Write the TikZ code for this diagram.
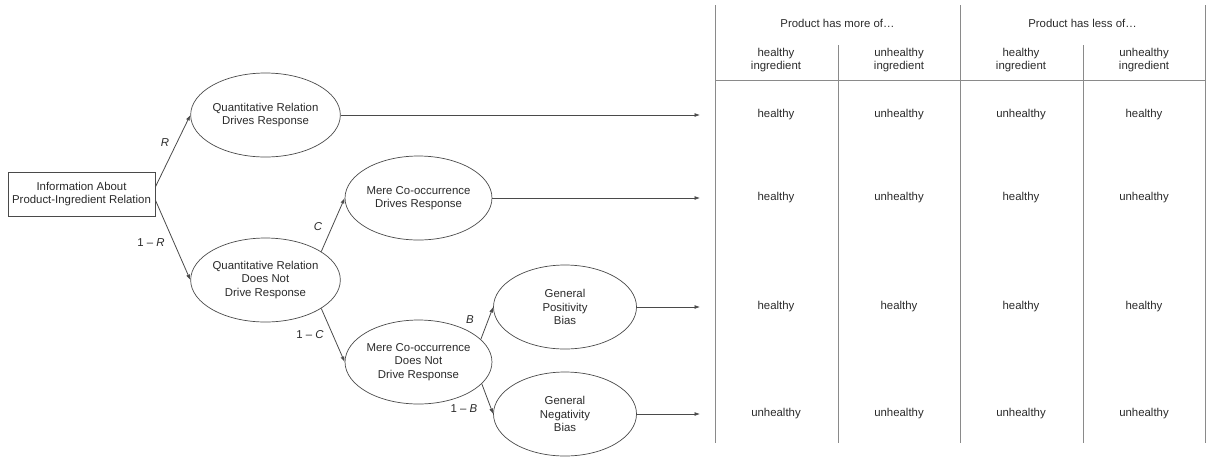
\documentclass[tikz,border=0pt]{standalone}
\usepackage{fontspec}
\setmainfont{Liberation Sans}
\usetikzlibrary{shapes.geometric,arrows.meta}
\definecolor{ln}{HTML}{4A4A4A}
\definecolor{tl}{HTML}{8A8A8A}
\definecolor{tx}{HTML}{2A2A2A}
\begin{document}
\begin{tikzpicture}[x=1pt,y=-1pt,
  every node/.style={font=\fontsize{11.4}{13.3}\selectfont, text=tx, align=center},
  oval/.style={ellipse, draw=ln, line width=0.7pt, minimum width=143pt, minimum height=84pt, inner sep=0pt},
  infobox/.style={rectangle, draw=ln, line width=0.7pt, minimum width=147pt, minimum height=44pt, inner sep=0pt},
  arr/.style={draw=ln, line width=0.8pt, -{Latex[length=5.5pt,width=4pt]}},
  tline/.style={draw=tl, line width=0.8pt},
  lbl/.style={font=\fontsize{11.4}{13.3}\selectfont}]
\useasboundingbox (0,0) rectangle (1206,456);
% nodes
\node[infobox] (info) at (81.5,194) {Information About\\Product-Ingredient Relation};
\node[oval] (q1) at (265.5,115) {Quantitative Relation\\Drives Response};
\node[oval] (q2) at (265.5,280) {Quantitative Relation\\Does Not\\Drive Response};
\node[oval] (m1) at (418.5,198) {Mere Co-occurrence\\Drives Response};
\node[oval] (m2) at (418.5,362) {Mere Co-occurrence\\Does Not\\Drive Response};
\node[oval] (g1) at (565,307) {General\\Positivity\\Bias};
\node[oval] (g2) at (565,414) {General\\Negativity\\Bias};
% end coordinates
\coordinate (e1) at (700,115);
\coordinate (e2) at (700,198);
\coordinate (e3) at (700,307);
\coordinate (e4) at (700,414);
% connectors
\draw[arr] ([yshift=7pt]info.east) -- (q1.west);
\draw[arr] ([yshift=-6pt]info.east) -- (q2.west);
\draw[arr] (q2.27) -- (m1.west);
\draw[arr] (q2.-27) -- (m2.west);
\draw[arr] (m2.20) -- (g1.west);
\draw[arr] (m2.-19) -- (g2.west);
\draw[arr] (q1.east) -- (e1);
\draw[arr] (m1.east) -- (e2);
\draw[arr] (g1.east) -- (e3);
\draw[arr] (g2.east) -- (e4);
% labels
\node[lbl] (lR) at (165,143) {\itshape R};
\node[lbl] (l1R) at (151,243) {1 -- \itshape R};
\node[lbl] (lC) at (318,227) {\itshape C};
\node[lbl] (l1C) at (310,335) {1 -- \itshape C};
\node[lbl] (lB) at (470,320) {\itshape B};
\node[lbl] (l1B) at (464,409) {1 -- \itshape B};
% table lines
\coordinate (t1) at (715,5);
\coordinate (t1b) at (715,443);
\coordinate (t2) at (960,5);
\coordinate (t2b) at (960,443);
\coordinate (t3) at (1205,5);
\coordinate (t3b) at (1205,443);
\coordinate (s1) at (838,45);
\coordinate (s1b) at (838,443);
\coordinate (s2) at (1083,45);
\coordinate (s2b) at (1083,443);
\coordinate (h1) at (715,80);
\coordinate (h2) at (1205,80);
\draw[tline] (t1) -- (t1b);
\draw[tline] (t2) -- (t2b);
\draw[tline] (t3) -- (t3b);
\draw[tline] (s1) -- (s1b);
\draw[tline] (s2) -- (s2b);
\draw[tline] (h1) -- (h2);
% table headers
\node (hm) at (837.5,23) {Product has more of\dots};
\node (hl) at (1082.5,23) {Product has less of\dots};
\node (c1) at (776,60) {healthy\\ingredient};
\node (c2) at (899,60) {unhealthy\\ingredient};
\node (c3) at (1021,60) {healthy\\ingredient};
\node (c4) at (1144,60) {unhealthy\\ingredient};
% rows
\node (r11) at (776,115) {healthy};
\node (r12) at (899,115) {unhealthy};
\node (r13) at (1021,115) {unhealthy};
\node (r14) at (1144,115) {healthy};
\node (r21) at (776,198) {healthy};
\node (r22) at (899,198) {unhealthy};
\node (r23) at (1021,198) {healthy};
\node (r24) at (1144,198) {unhealthy};
\node (r31) at (776,307) {healthy};
\node (r32) at (899,307) {healthy};
\node (r33) at (1021,307) {healthy};
\node (r34) at (1144,307) {healthy};
\node (r41) at (776,414) {unhealthy};
\node (r42) at (899,414) {unhealthy};
\node (r43) at (1021,414) {unhealthy};
\node (r44) at (1144,414) {unhealthy};
\end{tikzpicture}
\end{document}
